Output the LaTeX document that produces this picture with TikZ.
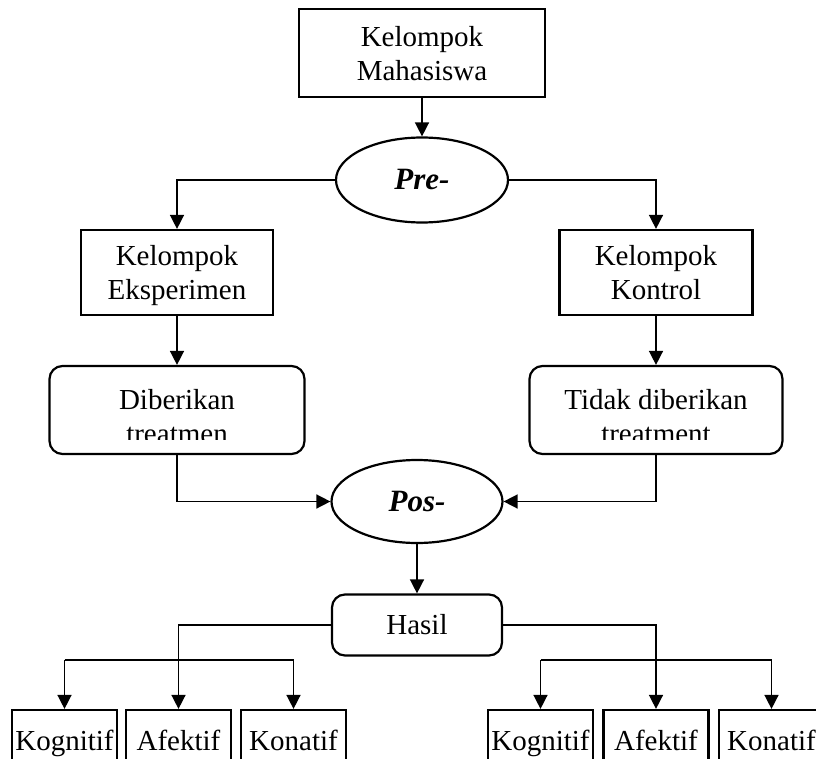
\documentclass[tikz,border=0pt]{standalone}
\usepackage{amsmath,amssymb,tikz}
\usepackage{fontspec}
\setmainfont{Liberation Serif}
\usetikzlibrary{shapes.geometric,arrows.meta,calc}

\tikzset{
  box/.style={draw, line width=2.2pt, align=center, inner sep=0pt},
  rbox/.style={box, rounded corners=13pt},
  oval/.style={draw, ellipse, line width=2.2pt, inner sep=0pt, minimum width=172pt, minimum height=85pt, font=\fontsize{31}{36}\selectfont\bfseries\itshape},
  kecil/.style={box, minimum width=105pt, minimum height=66pt, text height=20pt, text depth=6pt},
  ln/.style={line width=1.5pt},
  arr/.style={ln, -{Triangle[length=14pt,width=14pt]}},
}

\begin{document}
\begin{tikzpicture}[x=1pt,y=-1pt,font=\fontsize{29}{34}\selectfont]

\useasboundingbox (0,0) rectangle (816,759);
\clip (0,0) rectangle (816,759);

% kelompok mahasiswa
\node [box, minimum width=246pt, minimum height=88pt, text depth=-3pt] (mhs) at (422,53) {Kelompok\\Mahasiswa};
\node [oval] (pre) at (422,180) {Pre-};

% dua kelompok
\node [box, minimum width=192pt, minimum height=85pt, text depth=-8pt] (eks) at (177,272.5) {Kelompok\\Eksperimen};
\node [box, minimum width=193pt, minimum height=85pt, text depth=-8pt] (kon) at (656,272.5) {Kelompok\\Kontrol};

% perlakuan
\node [rbox, minimum width=255pt, minimum height=88pt] (beri) at (177,410) {};
\node [rbox, minimum width=253pt, minimum height=88pt] (tidak) at (656,410) {};
\begin{scope}
\clip (beri.north west) rectangle ($(tidak.south east)+(0,-16)$);
\node [align=center] (beri-t) at (177,417) {Diberikan\\treatmen};
\node [align=center] (tidak-t) at (656,417) {Tidak diberikan\\treatment};
\end{scope}

% pos dan hasil
\node [oval, minimum width=171pt, minimum height=83pt] (pos) at (417,501.5) {Pos-};
\node [rbox, minimum width=170pt, minimum height=61pt] (hasil) at (417,625) {Hasil};

% aspek
\node [kecil] (kog1) at (64.5,743) {Kognitif};
\node [kecil] (afe1) at (178.5,743) {Afektif};
\node [kecil] (kna1) at (293.5,743) {Konatif};
\node [kecil] (kog2) at (540.5,743) {Kognitif};
\node [kecil] (afe2) at (656,743) {Afektif};
\node [kecil] (kna2) at (771.5,743) {Konatif};

% panah atas
\draw [arr] (mhs.south) -- (pre.north);
\draw [arr] (pre.west) -| (eks.north);
\draw [arr] (pre.east) -| (kon.north);
\draw [arr] (eks.south) -- (beri.north);
\draw [arr] (kon.south) -- (tidak.north);

% panah ke pos
\draw [arr] (beri.south) |- (pos.west);
\draw [arr] (tidak.south) |- (pos.east);
\draw [arr] (pos.south) -- (hasil.north);

% panah ke aspek
\draw [arr] (hasil.west) -| (afe1.north);
\draw [arr] (hasil.east) -| (afe2.north);

\coordinate (bar) at (0,660);
\draw [ln] (kog1.north |- bar) -- (kna1.north |- bar);
\draw [arr] (kog1.north |- bar) -- (kog1.north);
\draw [arr] (kna1.north |- bar) -- (kna1.north);
\draw [ln] (kog2.north |- bar) -- (kna2.north |- bar);
\draw [arr] (kog2.north |- bar) -- (kog2.north);
\draw [arr] (kna2.north |- bar) -- (kna2.north);

\end{tikzpicture}
\end{document}
